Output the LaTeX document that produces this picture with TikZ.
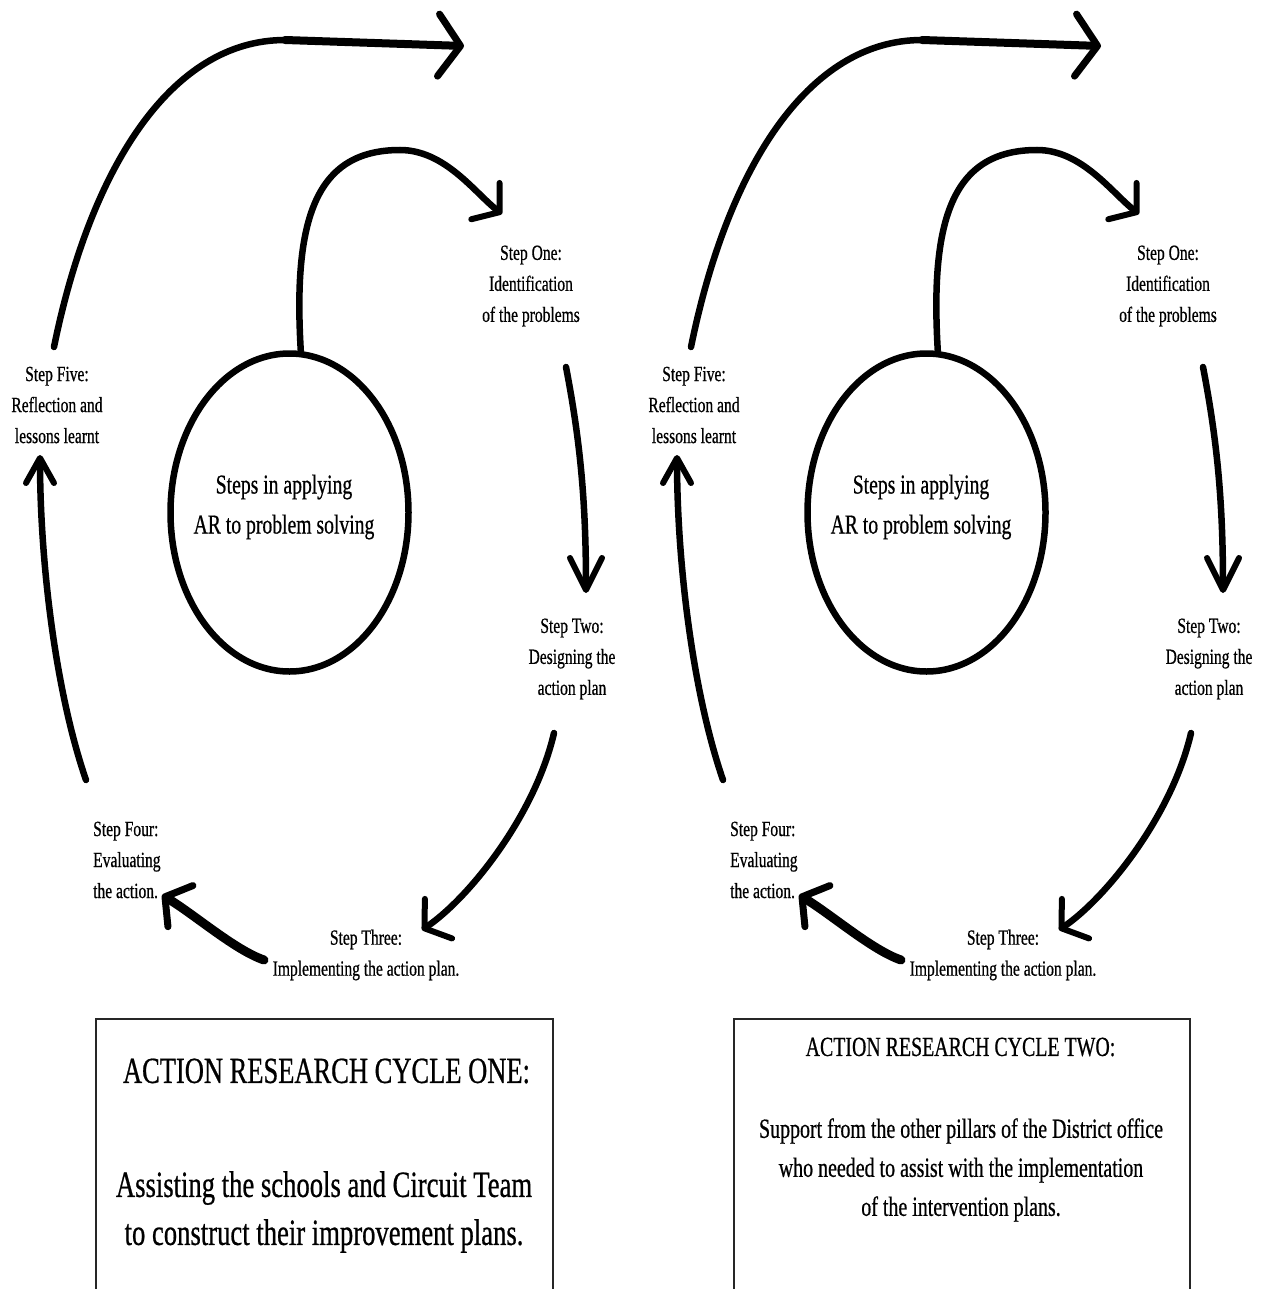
\documentclass[tikz,border=0pt]{standalone}
\usepackage{fontspec}
\setmainfont{Liberation Serif}[FakeStretch=0.72,FakeBold=0.6]
\usetikzlibrary{arrows.meta,shapes.geometric}

\tikzset{
  lbl/.style={align=center, inner sep=0pt, font=\fontsize{21.6}{31}\selectfont},
  lblleft/.style={align=left, inner sep=0pt, anchor=west, font=\fontsize{21.6}{31}\selectfont},
  arcline/.style={line width=6.5pt, line cap=round, line join=round},
  hub/.style={ellipse, draw, line width=6.5pt, minimum width=238pt, minimum height=318pt, inner sep=0pt},
  hubtext/.style={align=center, inner sep=0pt, font=\fontsize{27.3}{40}\selectfont},
  frame/.style={draw=black!85, line width=2pt, inner sep=0pt},
  tipA/.style={-{Straight Barb[length=18pt,width=46pt,line width=6pt,round]}},
  tipB/.style={-{Straight Barb[length=32pt,width=32pt,line width=6pt,round]}},
  tipC/.style={-{Straight Barb[length=17pt,width=48pt,line width=6pt,round]}},
  tipD/.style={-{Straight Barb[length=18pt,width=48pt,line width=7pt,round]}},
  tipE/.style={-{Straight Barb[length=25pt,width=28pt,line width=6pt,round]}},
  tipF/.style={-{Straight Barb[length=22pt,width=62pt,line width=7pt,round]}},
}

\newcommand\arcycle[2]{%
\begin{scope}[xshift=#2pt]
  \node[hub] (#1hub) at (289.5,512.5) {};
  \node[hubtext] (#1hubt) at (284,507) {Steps in applying\\AR to problem solving};
  \node[lbl] (#1s1) at (531,286) {Step One:\\Identification\\of the problems};
  \node[lbl] (#1s2) at (572,659) {Step Two:\\Designing the\\action plan};
  \node[lbl] (#1s3) at (366,955) {Step Three:\\Implementing the action plan.};
  \node[lblleft] (#1s4) at (93,860) {Step Four:\\Evaluating\\the action.};
  \node[lbl] (#1s5) at (57,405) {Step Five:\\Reflection and\\lessons learnt};
  \coordinate (#1k1) at (400,150);
  \coordinate (#1e1) at (502,214);
  \coordinate (#1b2) at (566,367);
  \coordinate (#1e2) at (586,593);
  \coordinate (#1b3) at (554,733);
  \coordinate (#1e3) at (422,930);
  \coordinate (#1b4) at (264,960);
  \coordinate (#1e4) at (162,895);
  \coordinate (#1b5) at (86,780);
  \coordinate (#1e5) at (40,455);
  \coordinate (#1b6) at (54,347);
  \coordinate (#1k6) at (285,40);
  \coordinate (#1e6) at (464,46);
  \draw[arcline, tipA] (#1hub.86) .. controls (293,220) and (315,150) .. (#1k1)
        .. controls (445,150) and (475,193) .. (#1e1);
  \draw[arcline, tipB] (#1b2) .. controls (580,440) and (586,500) .. (#1e2);
  \draw[arcline, tipC] (#1b3) .. controls (535,815) and (470,897) .. (#1e3);
  \draw[arcline, line width=9pt, tipD] (#1b4) .. controls (235,950) and (195,915) .. (#1e4);
  \draw[arcline, tipE] (#1b5) .. controls (55,690) and (40,560) .. (#1e5);
  \draw[arcline] (#1b6) .. controls (90,170) and (170,40) .. (#1k6);
  \draw[arcline, line width=8pt, tipF] (#1k6) -- (#1e6);
\end{scope}}

\begin{document}
\begin{tikzpicture}[x=1pt,y=-1pt]
  \useasboundingbox (0,0) rectangle (1260,1289);
  \fill[white] (0,0) rectangle (1260,1289);
  \clip (0,0) rectangle (1260,1289);
  \arcycle{L}{0}
  \arcycle{R}{637}
  \node[frame, minimum width=457pt, minimum height=291pt] (box1) at (324.5,1164.5) {};
  \node[inner sep=0pt, font=\fontsize{36.8}{44}\selectfont] (box1title) at (326.5,1071) {ACTION RESEARCH CYCLE ONE:};
  \node[align=center, inner sep=0pt, font=\fontsize{37}{48}\selectfont] (box1body) at (324,1212)
    {Assisting the schools and Circuit Team\\to construct their improvement plans.};
  \node[frame, minimum width=456pt, minimum height=291pt] (box2) at (962,1164.5) {};
  \node[inner sep=0pt, font=\fontsize{27.6}{33}\selectfont] (box2title) at (960.5,1047) {ACTION RESEARCH CYCLE TWO:};
  \node[align=center, inner sep=0pt, font=\fontsize{27.7}{39}\selectfont] (box2body) at (961,1170)
    {Support from the other pillars of the District office\\who needed to assist with the implementation\\of the intervention plans.};
\end{tikzpicture}
\end{document}
